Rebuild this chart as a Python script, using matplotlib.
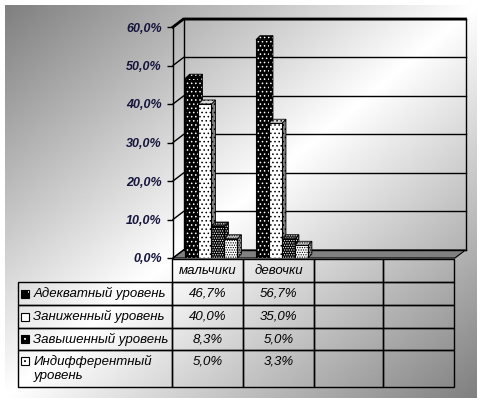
import numpy as np
import matplotlib
matplotlib.use('Agg')
import matplotlib.pyplot as plt
from matplotlib.patches import Polygon, Rectangle

plt.rcParams['font.family'] = ['Liberation Sans', 'DejaVu Sans']
plt.rcParams['hatch.linewidth'] = 0.6

# data
categories = ['мальчики', 'девочки', '', '']
series = ['Адекватный уровень', 'Заниженный уровень', 'Завышенный уровень',
          'Индифферентный\nуровень']
values = [
    [46.7, 56.7],
    [40.0, 35.0],
    [8.3, 5.0],
    [5.0, 3.3],
]
yticks = [0, 10, 20, 30, 40, 50, 60]

# styles per series
faces = ['black', 'white', 'black', 'white']
dots = ['white', 'black', 'white', 'black']
hatches = ['....', '....', '.......', '.......']
side_faces = ['black', '#808080', 'black', '#8c8c8c']
top_faces = ['black', '#d8d8d8', '#1a1a1a', '#d0d0d0']
key_hatches = ['..', '', '...', '...']


def pct(v):
    return f'{v:.1f}%'.replace('.', ',')


W, H = 483, 404
fig = plt.figure(figsize=(W / 100, H / 100), dpi=100)
fig.patch.set_facecolor('white')

# chart area background: diagonal gray-white-gray gradient
bg = fig.add_axes([0, 0, 1, 1])
xx, yy = np.meshgrid(np.linspace(0, 1, 300), np.linspace(0, 1, 250))
t = (xx + yy) / 2
g = 0.5 + 0.5 * (1 - np.abs(2 * t - 1))
bg.imshow(g, cmap='gray', vmin=0, vmax=1, extent=(5, 477, 398, 5),
          aspect='auto', interpolation='bilinear')
bg.set_xlim(0, W)
bg.set_ylim(H, 0)
bg.axis('off')

# front plane of the 3d plot
L, R, B, T = 173, 455, 258, 27
ax = fig.add_axes([L / W, (H - B) / H, (R - L) / W, (B - T) / H])
ax.set_xlim(0, 4)
ax.set_ylim(0, 60)
ax.patch.set_alpha(0)
for s in ['top', 'right', 'bottom']:
    ax.spines[s].set_visible(False)
ax.spines['left'].set_linewidth(1.0)
ax.spines['left'].set_zorder(10)
ax.set_xticks([])
ax.set_yticks(yticks)
ax.set_yticklabels([pct(v) for v in yticks], fontsize=9, fontweight='bold',
                   fontstyle='italic', color='#14143c')
ax.tick_params(axis='y', length=4, width=1, pad=4)

# walls and floor
wdx, wdy = 0.149, 2.08
ax.add_patch(Polygon([(0, 0), (4, 0), (4 + wdx, wdy), (wdx, wdy)],
                     fc='#808080', ec='black', lw=0.8, clip_on=False, zorder=1))
for v in yticks:
    ax.plot([wdx, 4 + wdx], [v + wdy, v + wdy], color='black', lw=1,
            clip_on=False, zorder=1)
    ax.plot([0, wdx], [v, v + wdy], color='black', lw=1, clip_on=False, zorder=1)
ax.plot([wdx, wdx], [wdy, 60 + wdy], color='black', lw=1, clip_on=False, zorder=1)
ax.plot([4 + wdx, 4 + wdx], [wdy, 60 + wdy], color='black', lw=1, clip_on=False, zorder=1)
ax.plot([0, wdx, 4 + wdx], [60, 60 + wdy, 60 + wdy], color='black', lw=2,
        clip_on=False, zorder=1)


def face(verts, fc, hc, hatch, z):
    ax.add_patch(Polygon(verts, fc=fc, ec=hc, hatch=hatch, lw=0, zorder=z, clip_on=False))
    ax.add_patch(Polygon(verts, fill=False, ec='black', lw=0.6, zorder=z, clip_on=False))


# bars
w = 0.184
bdx, bdy = 0.057, 1.04
x = np.arange(len(values[0])) + 0.545
for i, vals in enumerate(values):
    left = x - 2 * w + i * w
    z = 3 + i
    for l, h in zip(left, vals):
        face([(l + w, 0), (l + w, h), (l + w + bdx, h + bdy), (l + w + bdx, bdy)],
             side_faces[i], dots[i], hatches[i], z)
        face([(l, h), (l + w, h), (l + w + bdx, h + bdy), (l + bdx, h + bdy)],
             top_faces[i], dots[i], hatches[i], z)
    ax.bar(left, vals, w, align='edge', color=faces[i], edgecolor=dots[i],
           hatch=hatches[i], linewidth=0, zorder=z)
    ax.bar(left, vals, w, align='edge', fill=False, edgecolor='black',
           linewidth=0.8, zorder=z)

# data table (first column holds the series names)
col_w = [154, 71, 71, 69, 71]
row_h = [23, 23, 23, 22, 37]
tx0, ty0 = 18, 259
tw, th = sum(col_w), sum(row_h)
cell_text = []
for r, vals in enumerate(values):
    row = [pct(v) for v in vals] + [''] * (len(categories) - len(vals))
    if '\n' in series[r]:
        row = [c + '\n ' if c else c for c in row]
    cell_text.append([series[r]] + row)

tbl = ax.table(cellText=cell_text, colLabels=[''] + categories,
               colWidths=[c / tw for c in col_w], cellLoc='center',
               bbox=[(tx0 - L) / (R - L), (B - ty0 - th) / (B - T),
                     tw / (R - L), th / (B - T)])
tbl.auto_set_font_size(False)
tbl.set_fontsize(9.5)
for (r, c), cell in tbl.get_celld().items():
    cell.set_height(row_h[r] / th)
    cell.set_fill(False)
    cell.set_edgecolor('black')
    cell.set_linewidth(1)
    cell.get_text().set_fontstyle('italic')
    if c == 0:
        cell.get_text().set_horizontalalignment('left')
tbl[0, 0].set_visible(False)

# legend keys in the row label cells
ky = ty0 + row_h[0]
for i in range(len(series)):
    cy = ky + (row_h[i + 1] / 2 if '\n' not in series[i] else 11)
    kx, ks = 21, 8
    rect = [((kx - L) / (R - L), (B - cy - ks / 2) / (B - T)), ks / (R - L), ks / (B - T)]
    ax.add_patch(Rectangle(*rect, transform=ax.transAxes, fc=faces[i], ec=dots[i],
                           hatch=key_hatches[i] or None, lw=0, clip_on=False, zorder=12))
    ax.add_patch(Rectangle(*rect, transform=ax.transAxes, fill=False, ec='black',
                           lw=0.8, clip_on=False, zorder=12))
    ky += row_h[i + 1]

fig.savefig('out.png', dpi=100, facecolor=fig.get_facecolor())
